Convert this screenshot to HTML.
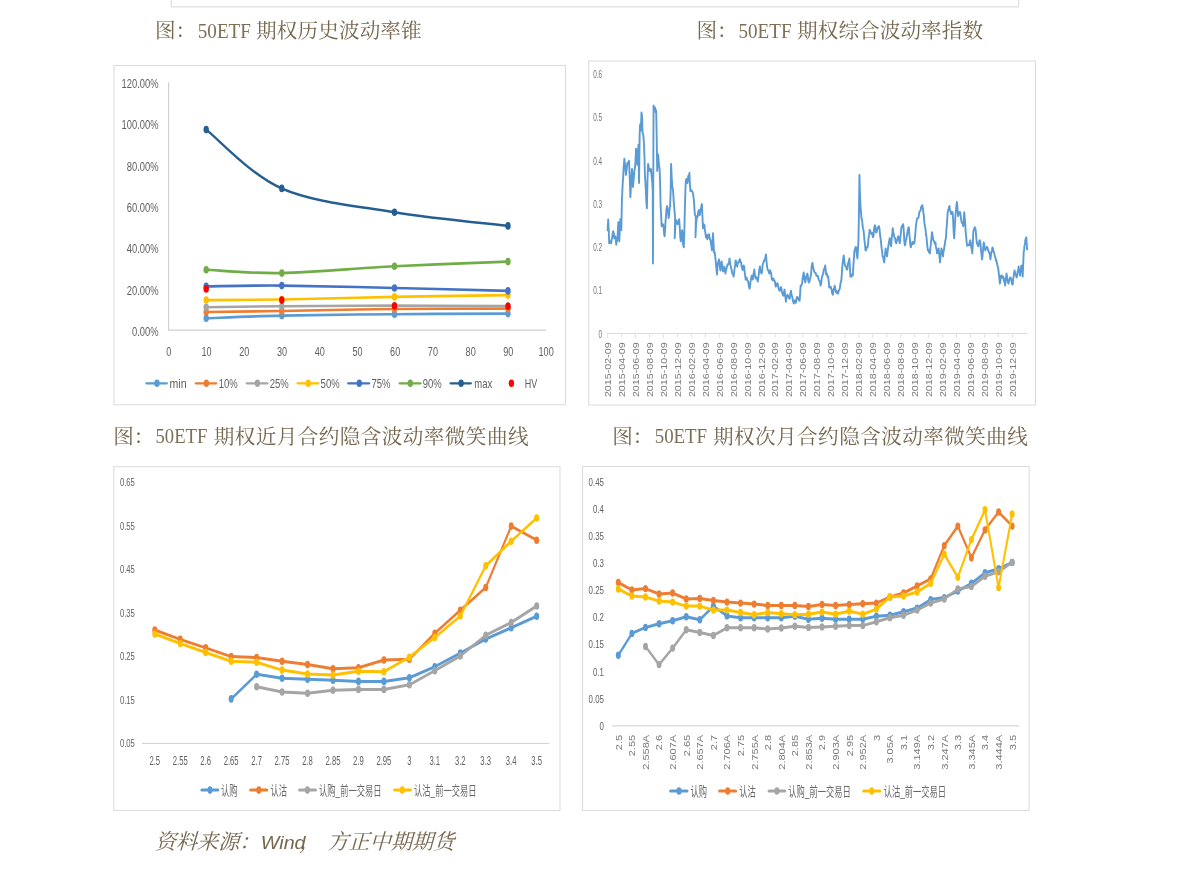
<!DOCTYPE html>
<html lang="zh-CN">
<head>
<meta charset="utf-8">
<title>50ETF 期权波动率图表</title>
<style>
html,body{margin:0;padding:0;background:#fff;}
body{width:1191px;height:874px;overflow:hidden;font-family:"Liberation Sans",sans-serif;}
svg{display:block;will-change:transform;}
text{white-space:pre;}
</style>
</head>
<body>
<svg width="1191" height="874" viewBox="0 0 1191 874">
<path d="M171.3 -1V6.9H1018.6V-1" fill="none" stroke="#e0e0e0" stroke-width="1.3"/>
<text x="154.9" y="38.1" font-size="20.6" fill="#75664d" font-family="Liberation Serif, Noto Serif CJK SC, serif">图：</text>
<text x="256.08" y="38.1" font-size="20.6" textLength="165.6" fill="#75664d" font-family="Liberation Serif, Noto Serif CJK SC, serif">期权历史波动率锥</text>
<text transform="translate(197.8,37.6) scale(0.88,1)" font-size="21.7" fill="#7d6e56" font-family="Liberation Serif, serif"><tspan x="0">50ETF</tspan></text>
<text x="696.5" y="38.1" font-size="20.6" fill="#75664d" font-family="Liberation Serif, Noto Serif CJK SC, serif">图：</text>
<text x="797.08" y="38.1" font-size="20.6" textLength="185.9" fill="#75664d" font-family="Liberation Serif, Noto Serif CJK SC, serif">期权综合波动率指数</text>
<text transform="translate(738.5,37.6) scale(0.88,1)" font-size="21.7" fill="#7d6e56" font-family="Liberation Serif, serif"><tspan x="0">50ETF</tspan></text>
<text x="113.2" y="443.8" font-size="20.6" fill="#75664d" font-family="Liberation Serif, Noto Serif CJK SC, serif">图：</text>
<text x="213.78" y="443.8" font-size="20.6" textLength="314.7" fill="#75664d" font-family="Liberation Serif, Noto Serif CJK SC, serif">期权近月合约隐含波动率微笑曲线</text>
<text transform="translate(155.5,443.3) scale(0.86,1)" font-size="21.7" fill="#7d6e56" font-family="Liberation Serif, serif"><tspan x="0">50ETF</tspan></text>
<text x="612.2" y="443.8" font-size="20.6" fill="#75664d" font-family="Liberation Serif, Noto Serif CJK SC, serif">图：</text>
<text x="713.08" y="443.8" font-size="20.6" textLength="314.7" fill="#75664d" font-family="Liberation Serif, Noto Serif CJK SC, serif">期权次月合约隐含波动率微笑曲线</text>
<text transform="translate(654.7,443.3) scale(0.87,1)" font-size="21.7" fill="#7d6e56" font-family="Liberation Serif, serif"><tspan x="0">50ETF</tspan></text>
<text transform="translate(154.77,848.9) skewX(-16)" font-size="21.2" textLength="105.4" fill="#75664d" font-family="Liberation Serif, Noto Serif CJK SC, serif">资料来源：</text>
<text transform="translate(260.8,848.7) scale(1.05,1)" font-size="18.8" fill="#75664d" font-family="Liberation Sans, serif" font-style="italic"><tspan x="0">Wind</tspan></text>
<text transform="translate(299.2,848.9) skewX(-16)" font-size="21.2" fill="#75664d" font-family="Liberation Serif, Noto Serif CJK SC, serif">，</text>
<text transform="translate(327.22,848.9) skewX(-16)" font-size="21.2" textLength="127" fill="#75664d" font-family="Liberation Serif, Noto Serif CJK SC, serif">方正中期期货</text>
<rect x="113.94" y="65.48" width="451.55" height="339.28" fill="#fff" stroke="#dadada" stroke-width="1"/>
<line x1="168.63" y1="82.3" x2="168.63" y2="330.6" stroke="#d0d0d0" stroke-width="1.15"/>
<line x1="168.1" y1="330.08" x2="546.3" y2="330.08" stroke="#d0d0d0" stroke-width="1.15"/>
<text transform="translate(158.6,87.55) scale(0.69,1)" font-size="13.6" text-anchor="end" fill="#5f5f5f" font-family="Liberation Sans, sans-serif">120.00%</text>
<text transform="translate(158.6,129.03) scale(0.69,1)" font-size="13.6" text-anchor="end" fill="#5f5f5f" font-family="Liberation Sans, sans-serif">100.00%</text>
<text transform="translate(158.6,170.5) scale(0.69,1)" font-size="13.6" text-anchor="end" fill="#5f5f5f" font-family="Liberation Sans, sans-serif">80.00%</text>
<text transform="translate(158.6,211.97) scale(0.69,1)" font-size="13.6" text-anchor="end" fill="#5f5f5f" font-family="Liberation Sans, sans-serif">60.00%</text>
<text transform="translate(158.6,253.45) scale(0.69,1)" font-size="13.6" text-anchor="end" fill="#5f5f5f" font-family="Liberation Sans, sans-serif">40.00%</text>
<text transform="translate(158.6,294.93) scale(0.69,1)" font-size="13.6" text-anchor="end" fill="#5f5f5f" font-family="Liberation Sans, sans-serif">20.00%</text>
<text transform="translate(158.6,336.4) scale(0.69,1)" font-size="13.6" text-anchor="end" fill="#5f5f5f" font-family="Liberation Sans, sans-serif">0.00%</text>
<text transform="translate(168.8,356.2) scale(0.69,1)" font-size="13.2" text-anchor="middle" fill="#5f5f5f" font-family="Liberation Sans, sans-serif">0</text>
<text transform="translate(206.53,356.2) scale(0.69,1)" font-size="13.2" text-anchor="middle" fill="#5f5f5f" font-family="Liberation Sans, sans-serif">10</text>
<text transform="translate(244.26,356.2) scale(0.69,1)" font-size="13.2" text-anchor="middle" fill="#5f5f5f" font-family="Liberation Sans, sans-serif">20</text>
<text transform="translate(281.99,356.2) scale(0.69,1)" font-size="13.2" text-anchor="middle" fill="#5f5f5f" font-family="Liberation Sans, sans-serif">30</text>
<text transform="translate(319.72,356.2) scale(0.69,1)" font-size="13.2" text-anchor="middle" fill="#5f5f5f" font-family="Liberation Sans, sans-serif">40</text>
<text transform="translate(357.45,356.2) scale(0.69,1)" font-size="13.2" text-anchor="middle" fill="#5f5f5f" font-family="Liberation Sans, sans-serif">50</text>
<text transform="translate(395.18,356.2) scale(0.69,1)" font-size="13.2" text-anchor="middle" fill="#5f5f5f" font-family="Liberation Sans, sans-serif">60</text>
<text transform="translate(432.91,356.2) scale(0.69,1)" font-size="13.2" text-anchor="middle" fill="#5f5f5f" font-family="Liberation Sans, sans-serif">70</text>
<text transform="translate(470.64,356.2) scale(0.69,1)" font-size="13.2" text-anchor="middle" fill="#5f5f5f" font-family="Liberation Sans, sans-serif">80</text>
<text transform="translate(508.37,356.2) scale(0.69,1)" font-size="13.2" text-anchor="middle" fill="#5f5f5f" font-family="Liberation Sans, sans-serif">90</text>
<text transform="translate(546.1,356.2) scale(0.69,1)" font-size="13.2" text-anchor="middle" fill="#5f5f5f" font-family="Liberation Sans, sans-serif">100</text>
<g transform="scale(0.7105,1)"><path d="M290.21 318.3C307.94 317.85 352.44 316.28 396.61 315.6C440.78 314.92 502.16 314.53 555.22 314.2C608.28 313.87 688.34 313.7 714.96 313.6" fill="none" stroke="#5B9BD5" stroke-width="2.6" stroke-linejoin="round" stroke-linecap="round"/><g fill="#5B9BD5"><circle cx="290.21" cy="318.3" r="3.8"/><circle cx="396.61" cy="315.6" r="3.8"/><circle cx="555.22" cy="314.2" r="3.8"/><circle cx="714.96" cy="313.6" r="3.8"/></g></g>
<g transform="scale(0.7105,1)"><path d="M290.21 312C307.94 311.83 352.44 311.5 396.61 311C440.78 310.5 502.16 309.4 555.22 309C608.28 308.6 688.34 308.67 714.96 308.6" fill="none" stroke="#ED7D31" stroke-width="2.6" stroke-linejoin="round" stroke-linecap="round"/><g fill="#ED7D31"><circle cx="290.21" cy="312" r="3.8"/><circle cx="396.61" cy="311" r="3.8"/><circle cx="555.22" cy="309" r="3.8"/><circle cx="714.96" cy="308.6" r="3.8"/></g></g>
<g transform="scale(0.7105,1)"><path d="M290.21 307.2C307.94 307.03 352.44 306.47 396.61 306.2C440.78 305.93 502.16 305.63 555.22 305.6C608.28 305.57 688.34 305.93 714.96 306" fill="none" stroke="#A5A5A5" stroke-width="2.6" stroke-linejoin="round" stroke-linecap="round"/><g fill="#A5A5A5"><circle cx="290.21" cy="307.2" r="3.8"/><circle cx="396.61" cy="306.2" r="3.8"/><circle cx="555.22" cy="305.6" r="3.8"/><circle cx="714.96" cy="306" r="3.8"/></g></g>
<g transform="scale(0.7105,1)"><path d="M290.21 300.1C307.94 300 352.44 300.03 396.61 299.5C440.78 298.97 502.16 297.63 555.22 296.9C608.28 296.17 688.34 295.4 714.96 295.1" fill="none" stroke="#FFC000" stroke-width="2.6" stroke-linejoin="round" stroke-linecap="round"/><g fill="#FFC000"><circle cx="290.21" cy="300.1" r="3.8"/><circle cx="396.61" cy="299.5" r="3.8"/><circle cx="555.22" cy="296.9" r="3.8"/><circle cx="714.96" cy="295.1" r="3.8"/></g></g>
<g transform="scale(0.7105,1)"><path d="M290.21 286.4C307.94 286.27 352.44 285.33 396.61 285.6C440.78 285.87 502.16 287.12 555.22 288C608.28 288.88 688.34 290.42 714.96 290.9" fill="none" stroke="#4472C4" stroke-width="2.6" stroke-linejoin="round" stroke-linecap="round"/><g fill="#4472C4"><circle cx="290.21" cy="286.4" r="3.8"/><circle cx="396.61" cy="285.6" r="3.8"/><circle cx="555.22" cy="288" r="3.8"/><circle cx="714.96" cy="290.9" r="3.8"/></g></g>
<g transform="scale(0.7105,1)"><path d="M290.21 269.7C307.94 270.27 352.44 273.67 396.61 273.1C440.78 272.53 502.16 268.22 555.22 266.3C608.28 264.38 688.34 262.38 714.96 261.6" fill="none" stroke="#70AD47" stroke-width="2.6" stroke-linejoin="round" stroke-linecap="round"/><g fill="#70AD47"><circle cx="290.21" cy="269.7" r="3.8"/><circle cx="396.61" cy="273.1" r="3.8"/><circle cx="555.22" cy="266.3" r="3.8"/><circle cx="714.96" cy="261.6" r="3.8"/></g></g>
<g transform="scale(0.7105,1)"><path d="M290.21 129.6C307.94 139.4 352.44 174.63 396.61 188.4C440.78 202.17 502.16 205.95 555.22 212.2C608.28 218.45 688.34 223.62 714.96 225.9" fill="none" stroke="#255E91" stroke-width="2.6" stroke-linejoin="round" stroke-linecap="round"/><g fill="#255E91"><circle cx="290.21" cy="129.6" r="3.8"/><circle cx="396.61" cy="188.4" r="3.8"/><circle cx="555.22" cy="212.2" r="3.8"/><circle cx="714.96" cy="225.9" r="3.8"/></g></g>
<g transform="scale(0.7105,1)"><g fill="#FF0000"><circle cx="290.21" cy="288.9" r="3.8"/><circle cx="396.61" cy="300.1" r="3.8"/><circle cx="555.22" cy="306" r="3.8"/><circle cx="714.96" cy="306.2" r="3.8"/></g></g>
<line x1="146.45" y1="383.3" x2="166.85" y2="383.3" stroke="#5B9BD5" stroke-width="2.3" stroke-linecap="round"/>
<ellipse cx="157" cy="383.3" rx="2.7" ry="3.8" fill="#5B9BD5"/>
<text transform="translate(169.5,387.9) scale(0.8,1)" font-size="13.2" text-anchor="start" fill="#5f5f5f" font-family="Liberation Sans, sans-serif">min</text>
<line x1="195.75" y1="383.3" x2="216.25" y2="383.3" stroke="#ED7D31" stroke-width="2.3" stroke-linecap="round"/>
<ellipse cx="206.4" cy="383.3" rx="2.7" ry="3.8" fill="#ED7D31"/>
<text transform="translate(218.8,387.9) scale(0.72,1)" font-size="13.2" text-anchor="start" fill="#5f5f5f" font-family="Liberation Sans, sans-serif">10%</text>
<line x1="246.75" y1="383.3" x2="267.45" y2="383.3" stroke="#A5A5A5" stroke-width="2.3" stroke-linecap="round"/>
<ellipse cx="257.4" cy="383.3" rx="2.7" ry="3.8" fill="#A5A5A5"/>
<text transform="translate(269.8,387.9) scale(0.72,1)" font-size="13.2" text-anchor="start" fill="#5f5f5f" font-family="Liberation Sans, sans-serif">25%</text>
<line x1="297.55" y1="383.3" x2="318.45" y2="383.3" stroke="#FFC000" stroke-width="2.3" stroke-linecap="round"/>
<ellipse cx="308.3" cy="383.3" rx="2.7" ry="3.8" fill="#FFC000"/>
<text transform="translate(320.6,387.9) scale(0.72,1)" font-size="13.2" text-anchor="start" fill="#5f5f5f" font-family="Liberation Sans, sans-serif">50%</text>
<line x1="348.25" y1="383.3" x2="369.15" y2="383.3" stroke="#4472C4" stroke-width="2.3" stroke-linecap="round"/>
<ellipse cx="359.3" cy="383.3" rx="2.7" ry="3.8" fill="#4472C4"/>
<text transform="translate(371.5,387.9) scale(0.72,1)" font-size="13.2" text-anchor="start" fill="#5f5f5f" font-family="Liberation Sans, sans-serif">75%</text>
<line x1="399.65" y1="383.3" x2="420.55" y2="383.3" stroke="#70AD47" stroke-width="2.3" stroke-linecap="round"/>
<ellipse cx="410.3" cy="383.3" rx="2.7" ry="3.8" fill="#70AD47"/>
<text transform="translate(422.7,387.9) scale(0.72,1)" font-size="13.2" text-anchor="start" fill="#5f5f5f" font-family="Liberation Sans, sans-serif">90%</text>
<line x1="450.65" y1="383.3" x2="470.85" y2="383.3" stroke="#255E91" stroke-width="2.3" stroke-linecap="round"/>
<ellipse cx="461.1" cy="383.3" rx="2.7" ry="3.8" fill="#255E91"/>
<text transform="translate(474.3,387.9) scale(0.72,1)" font-size="13.2" text-anchor="start" fill="#5f5f5f" font-family="Liberation Sans, sans-serif">max</text>
<ellipse cx="511.4" cy="383.3" rx="2.7" ry="3.8" fill="#FF0000"/>
<text transform="translate(524.8,387.9) scale(0.68,1)" font-size="13.2" text-anchor="start" fill="#5f5f5f" font-family="Liberation Sans, sans-serif">HV</text>
<rect x="588.77" y="60.98" width="446.65" height="343.95" fill="#fff" stroke="#dadada" stroke-width="1"/>
<line x1="607.4" y1="333.46" x2="1027.2" y2="333.46" stroke="#dcdcdc" stroke-width="1"/>
<line x1="607.65" y1="333.4" x2="607.65" y2="337.8" stroke="#e2e2e2" stroke-width="1"/>
<line x1="621.61" y1="333.4" x2="621.61" y2="337.8" stroke="#e2e2e2" stroke-width="1"/>
<line x1="635.56" y1="333.4" x2="635.56" y2="337.8" stroke="#e2e2e2" stroke-width="1"/>
<line x1="649.51" y1="333.4" x2="649.51" y2="337.8" stroke="#e2e2e2" stroke-width="1"/>
<line x1="663.47" y1="333.4" x2="663.47" y2="337.8" stroke="#e2e2e2" stroke-width="1"/>
<line x1="677.42" y1="333.4" x2="677.42" y2="337.8" stroke="#e2e2e2" stroke-width="1"/>
<line x1="691.38" y1="333.4" x2="691.38" y2="337.8" stroke="#e2e2e2" stroke-width="1"/>
<line x1="705.34" y1="333.4" x2="705.34" y2="337.8" stroke="#e2e2e2" stroke-width="1"/>
<line x1="719.29" y1="333.4" x2="719.29" y2="337.8" stroke="#e2e2e2" stroke-width="1"/>
<line x1="733.25" y1="333.4" x2="733.25" y2="337.8" stroke="#e2e2e2" stroke-width="1"/>
<line x1="747.2" y1="333.4" x2="747.2" y2="337.8" stroke="#e2e2e2" stroke-width="1"/>
<line x1="761.15" y1="333.4" x2="761.15" y2="337.8" stroke="#e2e2e2" stroke-width="1"/>
<line x1="775.11" y1="333.4" x2="775.11" y2="337.8" stroke="#e2e2e2" stroke-width="1"/>
<line x1="789.06" y1="333.4" x2="789.06" y2="337.8" stroke="#e2e2e2" stroke-width="1"/>
<line x1="803.02" y1="333.4" x2="803.02" y2="337.8" stroke="#e2e2e2" stroke-width="1"/>
<line x1="816.97" y1="333.4" x2="816.97" y2="337.8" stroke="#e2e2e2" stroke-width="1"/>
<line x1="830.93" y1="333.4" x2="830.93" y2="337.8" stroke="#e2e2e2" stroke-width="1"/>
<line x1="844.88" y1="333.4" x2="844.88" y2="337.8" stroke="#e2e2e2" stroke-width="1"/>
<line x1="858.84" y1="333.4" x2="858.84" y2="337.8" stroke="#e2e2e2" stroke-width="1"/>
<line x1="872.79" y1="333.4" x2="872.79" y2="337.8" stroke="#e2e2e2" stroke-width="1"/>
<line x1="886.75" y1="333.4" x2="886.75" y2="337.8" stroke="#e2e2e2" stroke-width="1"/>
<line x1="900.7" y1="333.4" x2="900.7" y2="337.8" stroke="#e2e2e2" stroke-width="1"/>
<line x1="914.66" y1="333.4" x2="914.66" y2="337.8" stroke="#e2e2e2" stroke-width="1"/>
<line x1="928.62" y1="333.4" x2="928.62" y2="337.8" stroke="#e2e2e2" stroke-width="1"/>
<line x1="942.57" y1="333.4" x2="942.57" y2="337.8" stroke="#e2e2e2" stroke-width="1"/>
<line x1="956.52" y1="333.4" x2="956.52" y2="337.8" stroke="#e2e2e2" stroke-width="1"/>
<line x1="970.48" y1="333.4" x2="970.48" y2="337.8" stroke="#e2e2e2" stroke-width="1"/>
<line x1="984.43" y1="333.4" x2="984.43" y2="337.8" stroke="#e2e2e2" stroke-width="1"/>
<line x1="998.39" y1="333.4" x2="998.39" y2="337.8" stroke="#e2e2e2" stroke-width="1"/>
<line x1="1012.35" y1="333.4" x2="1012.35" y2="337.8" stroke="#e2e2e2" stroke-width="1"/>
<text transform="translate(602,77.96) scale(0.55,1)" font-size="11.6" text-anchor="end" fill="#727272" font-family="Liberation Sans, sans-serif">0.6</text>
<text transform="translate(602,121.26) scale(0.55,1)" font-size="11.6" text-anchor="end" fill="#727272" font-family="Liberation Sans, sans-serif">0.5</text>
<text transform="translate(602,164.56) scale(0.55,1)" font-size="11.6" text-anchor="end" fill="#727272" font-family="Liberation Sans, sans-serif">0.4</text>
<text transform="translate(602,207.86) scale(0.55,1)" font-size="11.6" text-anchor="end" fill="#727272" font-family="Liberation Sans, sans-serif">0.3</text>
<text transform="translate(602,251.16) scale(0.55,1)" font-size="11.6" text-anchor="end" fill="#727272" font-family="Liberation Sans, sans-serif">0.2</text>
<text transform="translate(602,294.46) scale(0.55,1)" font-size="11.6" text-anchor="end" fill="#727272" font-family="Liberation Sans, sans-serif">0.1</text>
<text transform="translate(602,337.76) scale(0.55,1)" font-size="11.6" text-anchor="end" fill="#727272" font-family="Liberation Sans, sans-serif">0</text>
<text transform="translate(611,342.4) rotate(-90) scale(1.29,1)" font-size="8.3" text-anchor="end" fill="#7a7a7a" font-family="Liberation Sans, sans-serif">2015-02-09</text>
<text transform="translate(624.96,342.4) rotate(-90) scale(1.29,1)" font-size="8.3" text-anchor="end" fill="#7a7a7a" font-family="Liberation Sans, sans-serif">2015-04-09</text>
<text transform="translate(638.91,342.4) rotate(-90) scale(1.29,1)" font-size="8.3" text-anchor="end" fill="#7a7a7a" font-family="Liberation Sans, sans-serif">2015-06-09</text>
<text transform="translate(652.87,342.4) rotate(-90) scale(1.29,1)" font-size="8.3" text-anchor="end" fill="#7a7a7a" font-family="Liberation Sans, sans-serif">2015-08-09</text>
<text transform="translate(666.82,342.4) rotate(-90) scale(1.29,1)" font-size="8.3" text-anchor="end" fill="#7a7a7a" font-family="Liberation Sans, sans-serif">2015-10-09</text>
<text transform="translate(680.77,342.4) rotate(-90) scale(1.29,1)" font-size="8.3" text-anchor="end" fill="#7a7a7a" font-family="Liberation Sans, sans-serif">2015-12-09</text>
<text transform="translate(694.73,342.4) rotate(-90) scale(1.29,1)" font-size="8.3" text-anchor="end" fill="#7a7a7a" font-family="Liberation Sans, sans-serif">2016-02-09</text>
<text transform="translate(708.68,342.4) rotate(-90) scale(1.29,1)" font-size="8.3" text-anchor="end" fill="#7a7a7a" font-family="Liberation Sans, sans-serif">2016-04-09</text>
<text transform="translate(722.64,342.4) rotate(-90) scale(1.29,1)" font-size="8.3" text-anchor="end" fill="#7a7a7a" font-family="Liberation Sans, sans-serif">2016-06-09</text>
<text transform="translate(736.6,342.4) rotate(-90) scale(1.29,1)" font-size="8.3" text-anchor="end" fill="#7a7a7a" font-family="Liberation Sans, sans-serif">2016-08-09</text>
<text transform="translate(750.55,342.4) rotate(-90) scale(1.29,1)" font-size="8.3" text-anchor="end" fill="#7a7a7a" font-family="Liberation Sans, sans-serif">2016-10-09</text>
<text transform="translate(764.5,342.4) rotate(-90) scale(1.29,1)" font-size="8.3" text-anchor="end" fill="#7a7a7a" font-family="Liberation Sans, sans-serif">2016-12-09</text>
<text transform="translate(778.46,342.4) rotate(-90) scale(1.29,1)" font-size="8.3" text-anchor="end" fill="#7a7a7a" font-family="Liberation Sans, sans-serif">2017-02-09</text>
<text transform="translate(792.41,342.4) rotate(-90) scale(1.29,1)" font-size="8.3" text-anchor="end" fill="#7a7a7a" font-family="Liberation Sans, sans-serif">2017-04-09</text>
<text transform="translate(806.37,342.4) rotate(-90) scale(1.29,1)" font-size="8.3" text-anchor="end" fill="#7a7a7a" font-family="Liberation Sans, sans-serif">2017-06-09</text>
<text transform="translate(820.33,342.4) rotate(-90) scale(1.29,1)" font-size="8.3" text-anchor="end" fill="#7a7a7a" font-family="Liberation Sans, sans-serif">2017-08-09</text>
<text transform="translate(834.28,342.4) rotate(-90) scale(1.29,1)" font-size="8.3" text-anchor="end" fill="#7a7a7a" font-family="Liberation Sans, sans-serif">2017-10-09</text>
<text transform="translate(848.24,342.4) rotate(-90) scale(1.29,1)" font-size="8.3" text-anchor="end" fill="#7a7a7a" font-family="Liberation Sans, sans-serif">2017-12-09</text>
<text transform="translate(862.19,342.4) rotate(-90) scale(1.29,1)" font-size="8.3" text-anchor="end" fill="#7a7a7a" font-family="Liberation Sans, sans-serif">2018-02-09</text>
<text transform="translate(876.14,342.4) rotate(-90) scale(1.29,1)" font-size="8.3" text-anchor="end" fill="#7a7a7a" font-family="Liberation Sans, sans-serif">2018-04-09</text>
<text transform="translate(890.1,342.4) rotate(-90) scale(1.29,1)" font-size="8.3" text-anchor="end" fill="#7a7a7a" font-family="Liberation Sans, sans-serif">2018-06-09</text>
<text transform="translate(904.06,342.4) rotate(-90) scale(1.29,1)" font-size="8.3" text-anchor="end" fill="#7a7a7a" font-family="Liberation Sans, sans-serif">2018-08-09</text>
<text transform="translate(918.01,342.4) rotate(-90) scale(1.29,1)" font-size="8.3" text-anchor="end" fill="#7a7a7a" font-family="Liberation Sans, sans-serif">2018-10-09</text>
<text transform="translate(931.96,342.4) rotate(-90) scale(1.29,1)" font-size="8.3" text-anchor="end" fill="#7a7a7a" font-family="Liberation Sans, sans-serif">2018-12-09</text>
<text transform="translate(945.92,342.4) rotate(-90) scale(1.29,1)" font-size="8.3" text-anchor="end" fill="#7a7a7a" font-family="Liberation Sans, sans-serif">2019-02-09</text>
<text transform="translate(959.88,342.4) rotate(-90) scale(1.29,1)" font-size="8.3" text-anchor="end" fill="#7a7a7a" font-family="Liberation Sans, sans-serif">2019-04-09</text>
<text transform="translate(973.83,342.4) rotate(-90) scale(1.29,1)" font-size="8.3" text-anchor="end" fill="#7a7a7a" font-family="Liberation Sans, sans-serif">2019-06-09</text>
<text transform="translate(987.79,342.4) rotate(-90) scale(1.29,1)" font-size="8.3" text-anchor="end" fill="#7a7a7a" font-family="Liberation Sans, sans-serif">2019-08-09</text>
<text transform="translate(1001.74,342.4) rotate(-90) scale(1.29,1)" font-size="8.3" text-anchor="end" fill="#7a7a7a" font-family="Liberation Sans, sans-serif">2019-10-09</text>
<text transform="translate(1015.69,342.4) rotate(-90) scale(1.29,1)" font-size="8.3" text-anchor="end" fill="#7a7a7a" font-family="Liberation Sans, sans-serif">2019-12-09</text>
<path d="M607.61 230.23L608.21 219.55L608.82 232.24L609.22 243.32L609.69 241.49L610.23 241.31L610.69 241.77L611.23 243.32L611.6 239.74L612.24 237.28L612.67 233.32L613.25 231.23L613.85 233.71L614.26 238.29L614.8 236.66L615.26 236.27L615.79 239.42L616.27 244.74L616.64 241.62L617.28 240.3L617.76 232.59L618.29 222.17L618.81 232.78L619.29 241.31L619.82 229.04L620.3 219.14L620.69 225.82L621.31 230.23L621.91 200.13L622.35 190.35L622.72 183L623.21 176.94L623.53 168.89L623.89 164.82L624.33 158.82L625.2 166.13L625.94 174.94L626.66 169.64L627.36 162.85L628.1 163.21L628.97 160.83L629.37 168.42L629.77 178.97L630.38 197.1L631.08 183.66L631.99 168.89L632.63 176.97L633 187.03L633.65 179.54L634.41 170.91L634.94 167.73L635.42 162.85L636.02 148.74L636.86 155.84L637.43 164.86L637.8 153.81L638.44 144.71L639.04 183L639.65 134.63L640.05 124.56L640.39 128.78L640.86 130.6L641.46 112.47L642.07 116.5L642.47 130.6L642.73 133.51L643.27 134.63L643.71 139.72L644.08 146.73L644.56 159.84L644.89 174.94L645.36 182.37L645.89 191.06L646.27 201.04L646.9 208.19L647.51 178.97L648.11 163.85L648.93 168.33L649.52 170.91L650.29 171.22L650.93 168.89L651.67 176.42L652.14 180.98L652.75 191.06L652.95 263.48L653.55 105.42L653.85 107.28L654.36 110.45L654.96 107.43L655.36 108.79L655.77 112.47L656.17 110.45L656.78 140.68L657.18 170.91L657.62 163.94L658.19 154.79L658.62 160.47L658.99 164.86L659.6 168.89L660.2 187.03L660.6 205.16L661.01 212.09L661.61 226.2L662.37 224.37L663.02 224.18L663.41 226.19L663.83 230.23L664.2 234.62L664.63 236.27L665.08 230.11L665.44 222.17L665.99 216.57L666.25 212.09L666.6 208.13L667.05 206.05L667.58 208.52L668.06 212.09L668.66 218.14L669.1 215.14L669.47 210.08L670.08 206.05L670.68 191.06L671.08 163.85L671.69 176.95L672.29 187.03L672.73 188.47L673.1 191.06L673.7 201.13L674.24 206.82L674.51 211.21L675.11 217.25L674.71 238.29L675 232.34L675.52 224.18L675.91 223.52L676.32 220.15L676.91 221.35L677.73 224.18L678.43 222.51L679.14 219.14L679.46 223.49L679.95 230.23L680.25 237.22L680.76 241.31L681.24 236.74L681.56 234.26L682.17 230.23L682.63 235.98L682.97 243.32L683.5 246.1L683.78 247.36L684.38 230.23L684.79 212.09L685.39 191.06L685.79 180.98L686.31 179.12L686.8 178.97L687.41 183L687.85 180.75L688.21 175.94L688.82 178.97L689.42 172.92L689.82 183L690.43 191.06L691.23 189.94L691.84 191.06L692.45 191.75L693.25 195.09L694 201.15L694.46 209.19L694.79 213.51L695.26 215.24L695.87 217.25L695.47 237.28L696.07 224.18L696.46 221.34L696.88 216.12L697.52 217.05L697.88 215.11L698.27 211.73L698.89 210.08L699.21 213.56L699.7 215.11L700.3 212.09L700.7 208.95L701.11 208.06L701.61 204.89L701.91 204.03L702.52 218.14L702.92 228.21L703.41 226.82L703.73 224.18L704.25 225.94L704.53 225.19L704.81 229.65L705.34 232.24L705.94 237.28L706.34 237.72L706.75 235.26L707.36 239.29L707.83 236.54L708.16 236.27L708.42 234.59L708.97 234.26L709.46 237.36L709.77 238.29L710.22 239.94L710.58 240.3L710.84 242.47L711.39 246.35L711.99 250.38L712.59 240.3L713 233.25L713.6 244.33L714.01 252.39L714.42 251.6L714.81 253.4L715.42 258.44L715.96 263.9L716.22 266.5L716.48 269.83L717.03 274.56L717.63 264.48L718.42 261.25L719.04 259.45L719.55 263.8L719.85 266.5L720.45 270.53L721.06 264.48L721.66 261.46L722.18 265.55L722.47 268.51L723.07 271.54L723.57 270.68L723.88 267.51L724.29 266.63L724.69 268.51L725.2 270.01L725.49 273.55L725.98 270.26L726.3 269.52L726.69 267.36L727.1 266.5L727.66 264.27L728.31 264.48L729 262.48L729.52 258.44L729.85 260.85L730.33 264.48L730.73 265.72L731.13 268.51L731.72 269.97L732.34 273.55L733 273.95L733.55 276.57L734.06 273.5L734.56 268.51L735.19 265.23L735.57 260.45L736.07 261.08L736.37 264.48L736.74 264.85L737.18 266.5L737.66 263.67L738.19 262.47L738.78 262.17L739.19 260.45L739.83 259.06L740.2 260.45L740.6 262.6L741.21 262.47L741.53 266.37L742.02 267.51L742.53 269.97L742.82 269.52L743.12 266.84L743.63 265.49L744.23 266.5L744.59 271.46L745.04 274.56L745.64 279.6L746.02 279.29L746.65 277.58L747.17 279.96L747.66 280.6L748.13 281.68L748.66 284.63L749.17 287.67L749.67 288.66L750.22 284.57L750.48 281.61L750.81 280.2L751.28 277.58L751.62 275.67L752.09 276.57L752.7 279.6L753.2 277.2L753.5 273.55L753.88 272.71L754.31 269.52L754.77 273.58L755.11 275.57L755.72 278.59L756.31 277.5L756.73 277.58L757.16 278.91L757.73 281.61L758.33 277.57L758.74 274.56L759.22 269.95L759.95 266.5L760.21 270.38L760.76 271.54L761.36 273.55L761.99 272.02L762.37 267.51L762.73 264.22L763.38 262.47L763.92 260.76L764.18 261.46L764.49 259.69L764.99 259.45L765.59 256.42L765.99 254.41L766.6 262.47L767.01 266.3L767.41 268.51L767.91 270.23L768.41 270.53L769.01 272.72L769.42 273.55L769.68 270.55L770.23 270.53L770.83 272.54L771.24 273.83L771.64 277.58L771.92 279.34L772.44 279.6L772.99 280.41L773.45 278.59L774.1 280.64L774.46 280.6L775.01 281.81L775.26 284.63L775.87 286.65L776.34 284.3L776.88 283.63L777.48 283.28L777.88 284.63L778.27 287.16L778.69 288.66L779.2 290.23L779.5 290.68L780.03 290.34L780.5 287.66L781 286.97L781.51 288.66L781.87 291.84L782.52 293.7L783.16 295.57L783.53 295.72L784.13 291.69L784.53 289.67L784.8 292.15L785.34 296.73L785.94 301.76L786.3 297.86L786.75 296.73L787.03 296.22L787.56 294.71L787.98 295.44L788.56 297.73L789 296.96L789.57 298.74L790 296.81L790.38 293.7L790.98 290.68L791.33 294.09L791.79 295.72L792.24 296.5L792.59 298.74L793.08 301.47L793.4 301.76L793.7 303.49L794.21 302.77L794.47 300.54L795.01 300.76L795.62 302.77L796.09 302.09L796.42 298.74L796.95 296.92L797.23 297.73L797.93 297.49L798.44 299.75L798.92 299.17L799.65 300.76L800.25 291.69L800.65 285.64L801.2 285.68L801.46 284.63L801.88 284.5L802.27 282.62L802.67 277.97L803.07 275.57L803.68 272.54L804.16 275.57L804.48 279.6L804.93 280.11L805.29 282.62L805.72 280.16L806.3 276.57L806.72 275.64L807.3 273.55L807.78 275.32L808.11 279.6L808.72 282.62L809.07 281.61L809.57 281.58L809.87 278.59L810.48 277.58L811.06 273.62L811.49 268.51L811.86 264.58L812.49 262.87L812.94 266.34L813.3 268.51L813.56 268.83L814.11 271.54L814.75 272.6L815.11 272.54L815.67 272.95L816.12 274.56L816.61 275.85L817.13 275.57L817.78 275.61L818.14 277.58L818.88 280.14L819.35 280.6L819.89 281.69L820.55 285.64L821.21 283.2L821.56 279.6L821.94 276.7L822.57 275.57L823.31 273.13L823.78 269.52L824.6 268.14L825.19 265.49L825.79 270.53L826.2 274.56L826.7 273.36L827.2 274.56L827.57 276.94L828.21 276.57L828.82 282.62L829.22 287.66L829.78 287.66L830.23 286.65L830.71 286.75L831.23 288.66L831.74 289.8L832.04 292.7L832.55 294.2L832.85 294.71L833.41 291.07L833.85 288.66L834.18 288.56L834.66 285.64L835.21 288.22L835.47 289.67L836 292.27L836.27 292.7L836.61 290.94L837.08 291.69L837.52 293.25L837.88 293.7L838.27 292.84L838.69 290.68L839.29 289.67L839.88 287.97L840.3 284.63L840.9 281.69L841.31 280.6L841.91 272.54L842.32 266.5L842.79 261.84L843.12 259.45L843.73 255.42L844.33 260.45L844.74 264.48L845.33 266.04L845.94 266.5L846.65 269.26L847.36 269.52L847.76 264.58L848.36 262.47L848.81 261.37L849.37 258.44L849.97 268.51L850.38 276.57L850.95 276.81L851.59 274.56L852.21 275.8L852.8 275.57L853.24 268.12L853.6 262.47L854.02 257L854.41 250.38L854.96 250.32L855.21 248.36L855.63 246.91L856.02 247.36L856.38 250.14L856.83 254.41L857.43 258.44L858.04 248.36L858.44 240.3L858.84 220.15L859.45 174.94L859.85 191.06L860.45 205.16L860.92 211.06L861.46 218.14L862.08 219.85L862.47 224.18L862.94 228.45L863.48 230.23L863.94 234.02L864.48 240.3L864.99 244.5L865.49 250.38L865.88 250.44L866.5 248.36L866.88 246.86L867.51 247.36L867.98 244.22L868.51 238.29L869.12 235.2L869.52 230.23L869.91 229.86L870.53 232.24L871.17 233.67L871.54 233.25L871.91 232.76L872.34 234.26L872.95 237.28L873.59 235.18L873.95 230.23L874.38 226.96L874.96 225.19L875.5 227.06L875.77 230.23L876.05 232.46L876.57 232.24L877.26 228.95L877.78 228.21L878.43 226.47L878.99 226.2L879.43 228.42L879.8 232.24L880.26 236.29L880.6 238.29L881.05 242.71L881.61 248.36L882.08 250.95L882.62 256.42L882.88 256.71L883.43 258.44L883.76 261.25L884.23 262.47L884.63 257.62L885.04 254.41L885.64 248.36L885.9 250.15L886.45 253.4L887.05 256.42L887.52 252.3L888.26 246.35L888.84 243.01L889.67 238.29L890.2 241.53L890.48 243.32L891.08 246.35L891.54 240.58L891.89 236.27L892.35 233.46L892.7 228.21L893.17 231.43L893.5 233.25L893.9 234.26L894.31 237.28L894.73 237.59L895.31 239.29L895.7 242.03L896.32 243.32L896.95 240.19L897.33 239.29L897.97 236.8L898.34 236.27L898.61 238.93L899.14 240.3L899.75 243.32L900.23 238.27L900.76 234.26L901.23 229.02L901.76 226.2L902.24 227.09L902.57 225.19L903.17 224.18L903.53 227.72L903.98 234.26L904.24 240.48L904.79 245.34L905.39 243.99L905.79 240.3L906.2 239.77L906.8 236.27L907.18 233.75L907.81 230.23L908.33 227.8L908.82 227.2L909.28 234L909.82 238.29L910.2 244.14L910.83 247.36L911.3 244.64L911.84 244.33L912.29 241.91L912.85 242.32L913.11 244.06L913.65 243.32L913.92 243.73L914.46 242.32L914.95 237.75L915.26 234.26L915.87 226.2L916.47 222.17L916.88 219.14L917.45 218.08L917.88 218.14L918.35 218.02L918.89 215.11L919.32 212.26L919.9 211.08L920.53 210.79L920.91 208.06L921.17 206.76L921.71 207.05L922.32 205.04L922.79 208.29L923.12 210.08L923.61 214.06L923.93 216.12L924.32 222.57L924.94 226.2L925.53 229.23L925.94 234.26L926.48 237.05L926.95 242.32L927.44 247.18L927.96 250.38L928.47 250.1L928.97 252.39L929.4 252.01L929.97 253.4L930.47 247.29L930.98 242.32L931.63 236.23L931.99 232.24L932.32 233.38L932.8 237.28L933.4 240.3L933.88 240.73L934.41 242.32L934.81 243.81L935.42 242.32L935.85 245.97L936.22 248.36L936.71 249.71L937.03 253.4L937.45 252.68L937.83 250.38L938.15 250.24L938.64 248.36L938.96 251.65L939.45 256.42L940.05 262.47L940.4 257.66L940.86 254.41L941.46 248.36L941.87 249.99L942.27 253.4L942.72 254.18L943.07 256.42L943.33 251.91L943.88 250.38L944.38 246.48L944.69 245.34L945.2 241.41L945.49 240.3L946.1 236.27L946.41 229.49L946.9 224.18L947.43 216.66L947.71 212.09L948.2 209.71L948.72 209.07L949 206.8L949.52 206.05L949.84 209.66L950.33 211.08L950.59 211.73L951.13 214.11L951.57 211.6L951.94 212.09L952.54 212.09L953.04 217.99L953.35 226.2L953.81 233.56L954.16 238.29L954.76 228.21L955.16 220.15L955.44 215.8L955.97 210.08L956.39 206.58L956.78 202.02L957.27 205.48L957.58 210.08L958.19 216.12L958.73 213.45L959.19 213.1L959.67 212L960.2 212.09L960.81 217.13L961.21 220.15L961.76 222.43L962.22 223.17L962.66 223.77L963.22 226.2L963.83 218.14L964.23 212.09L964.84 219.14L965.24 224.18L965.62 230.79L966.05 235.26L966.49 240.32L966.85 244.33L967.27 245.73L967.86 245.34L968.34 244.83L968.87 245.34L969.29 245.15L969.67 242.32L970.28 240.3L970.67 242.96L971.28 247.36L971.83 249.83L972.29 253.4L972.9 241.31L973.3 232.24L973.83 229.32L974.31 229.22L974.7 227.29L975.31 228.21L975.85 231.46L976.12 236.27L976.6 240.41L976.93 243.32L977.27 243.04L977.73 245.34L978.34 246.35L978.88 243L979.14 242.32L979.58 240.33L979.95 240.3L980.57 244.2L980.96 250.38L981.5 253.79L981.96 259.45L982.5 256.27L982.97 250.38L983.28 247.04L983.78 242.32L984.31 245.55L984.58 247.36L984.87 249.52L985.39 250.38L985.76 248.62L986.4 248.36L986.95 246.8L987.41 247.36L987.94 249.69L988.41 250.38L988.96 252.44L989.42 252.39L990.03 256.42L990.43 259.45L990.91 255.11L991.44 252.39L991.94 251.03L992.44 247.36L992.98 248.69L993.45 251.39L993.94 251.91L994.46 254.41L995.06 257.04L995.47 257.43L995.85 260.25L996.47 260.45L996.94 263.6L997.48 265.49L997.85 266.71L998.49 270.53L998.97 274.69L999.29 277.58L999.9 283.63L1000.38 280.1L1000.71 278.59L1000.97 275.68L1001.51 275.57L1001.82 275.5L1002.32 276.57L1002.66 278.06L1003.12 276.57L1003.68 277.78L1004.13 281.61L1004.5 282.41L1005.14 285.64L1005.44 282.97L1005.94 278.59L1006.55 273.55L1007.17 277.97L1007.56 279.6L1008.06 282.57L1008.56 283.63L1009.1 280.19L1009.57 279.6L1010.02 277.47L1010.58 277.58L1011.05 279.06L1011.59 281.61L1012.14 284.26L1012.59 284.63L1013.19 279.21L1013.6 276.57L1014.15 272.79L1014.61 270.53L1015.13 273.4L1015.62 274.56L1016.05 274.99L1016.62 277.58L1017.2 275.59L1017.63 271.54L1018.28 269.89L1018.64 266.5L1018.99 270.09L1019.45 271.54L1020.05 275.57L1020.36 271.96L1020.86 269.52L1021.2 266.26L1021.66 265.49L1022.27 271.54L1022.67 276.57L1023.27 262.47L1023.68 252.39L1024.12 249.88L1024.48 245.34L1024.96 244.31L1025.29 240.3L1025.89 238.29L1026.3 237.28L1026.7 243.32L1027.1 249.37" fill="none" stroke="#5B9BD5" stroke-width="1.9" stroke-linejoin="round" stroke-linecap="round"/>
<rect x="113.77" y="466.74" width="446.21" height="343.69" fill="#fff" stroke="#dadada" stroke-width="1"/>
<line x1="142.05" y1="743.41" x2="549.4" y2="743.41" stroke="#d0d0d0" stroke-width="1"/>
<text transform="translate(134.8,486.4) scale(0.66,1)" font-size="11.6" text-anchor="end" fill="#5f5f5f" font-family="Liberation Sans, sans-serif">0.65</text>
<text transform="translate(134.8,529.9) scale(0.66,1)" font-size="11.6" text-anchor="end" fill="#5f5f5f" font-family="Liberation Sans, sans-serif">0.55</text>
<text transform="translate(134.8,573.4) scale(0.66,1)" font-size="11.6" text-anchor="end" fill="#5f5f5f" font-family="Liberation Sans, sans-serif">0.45</text>
<text transform="translate(134.8,616.9) scale(0.66,1)" font-size="11.6" text-anchor="end" fill="#5f5f5f" font-family="Liberation Sans, sans-serif">0.35</text>
<text transform="translate(134.8,660.4) scale(0.66,1)" font-size="11.6" text-anchor="end" fill="#5f5f5f" font-family="Liberation Sans, sans-serif">0.25</text>
<text transform="translate(134.8,703.9) scale(0.66,1)" font-size="11.6" text-anchor="end" fill="#5f5f5f" font-family="Liberation Sans, sans-serif">0.15</text>
<text transform="translate(134.8,747.4) scale(0.66,1)" font-size="11.6" text-anchor="end" fill="#5f5f5f" font-family="Liberation Sans, sans-serif">0.05</text>
<text transform="translate(154.8,765.2) scale(0.64,1)" font-size="12" text-anchor="middle" fill="#5f5f5f" font-family="Liberation Sans, sans-serif">2.5</text>
<text transform="translate(180.25,765.2) scale(0.64,1)" font-size="12" text-anchor="middle" fill="#5f5f5f" font-family="Liberation Sans, sans-serif">2.55</text>
<text transform="translate(205.71,765.2) scale(0.64,1)" font-size="12" text-anchor="middle" fill="#5f5f5f" font-family="Liberation Sans, sans-serif">2.6</text>
<text transform="translate(231.17,765.2) scale(0.64,1)" font-size="12" text-anchor="middle" fill="#5f5f5f" font-family="Liberation Sans, sans-serif">2.65</text>
<text transform="translate(256.62,765.2) scale(0.64,1)" font-size="12" text-anchor="middle" fill="#5f5f5f" font-family="Liberation Sans, sans-serif">2.7</text>
<text transform="translate(282.07,765.2) scale(0.64,1)" font-size="12" text-anchor="middle" fill="#5f5f5f" font-family="Liberation Sans, sans-serif">2.75</text>
<text transform="translate(307.53,765.2) scale(0.64,1)" font-size="12" text-anchor="middle" fill="#5f5f5f" font-family="Liberation Sans, sans-serif">2.8</text>
<text transform="translate(332.99,765.2) scale(0.64,1)" font-size="12" text-anchor="middle" fill="#5f5f5f" font-family="Liberation Sans, sans-serif">2.85</text>
<text transform="translate(358.44,765.2) scale(0.64,1)" font-size="12" text-anchor="middle" fill="#5f5f5f" font-family="Liberation Sans, sans-serif">2.9</text>
<text transform="translate(383.89,765.2) scale(0.64,1)" font-size="12" text-anchor="middle" fill="#5f5f5f" font-family="Liberation Sans, sans-serif">2.95</text>
<text transform="translate(409.35,765.2) scale(0.64,1)" font-size="12" text-anchor="middle" fill="#5f5f5f" font-family="Liberation Sans, sans-serif">3</text>
<text transform="translate(434.81,765.2) scale(0.64,1)" font-size="12" text-anchor="middle" fill="#5f5f5f" font-family="Liberation Sans, sans-serif">3.1</text>
<text transform="translate(460.26,765.2) scale(0.64,1)" font-size="12" text-anchor="middle" fill="#5f5f5f" font-family="Liberation Sans, sans-serif">3.2</text>
<text transform="translate(485.71,765.2) scale(0.64,1)" font-size="12" text-anchor="middle" fill="#5f5f5f" font-family="Liberation Sans, sans-serif">3.3</text>
<text transform="translate(511.17,765.2) scale(0.64,1)" font-size="12" text-anchor="middle" fill="#5f5f5f" font-family="Liberation Sans, sans-serif">3.4</text>
<text transform="translate(536.62,765.2) scale(0.64,1)" font-size="12" text-anchor="middle" fill="#5f5f5f" font-family="Liberation Sans, sans-serif">3.5</text>
<g transform="scale(0.6711,1)"><path d="M344.48 698.9L382.41 674.3L420.35 678.3L458.28 679.3L496.21 680.3L534.15 681.4L572.08 681.4L610.01 677.7L647.94 666.7L685.88 653.1L723.81 639L761.74 627.8L799.68 616.2" fill="none" stroke="#5B9BD5" stroke-width="3" stroke-linejoin="round" stroke-linecap="round"/><g fill="#5B9BD5"><circle cx="344.48" cy="698.9" r="3.8"/><circle cx="382.41" cy="674.3" r="3.8"/><circle cx="420.35" cy="678.3" r="3.8"/><circle cx="458.28" cy="679.3" r="3.8"/><circle cx="496.21" cy="680.3" r="3.8"/><circle cx="534.15" cy="681.4" r="3.8"/><circle cx="572.08" cy="681.4" r="3.8"/><circle cx="610.01" cy="677.7" r="3.8"/><circle cx="647.94" cy="666.7" r="3.8"/><circle cx="685.88" cy="653.1" r="3.8"/><circle cx="723.81" cy="639" r="3.8"/><circle cx="761.74" cy="627.8" r="3.8"/><circle cx="799.68" cy="616.2" r="3.8"/></g></g>
<g transform="scale(0.6711,1)"><path d="M230.68 630L268.62 639.4L306.55 647.9L344.48 656.6L382.41 657.6L420.35 661.2L458.28 664.6L496.21 668.7L534.15 667.7L572.08 660L610.01 659.2L647.94 633.2L685.88 610.2L723.81 587.5L761.74 526.1L799.68 540.2" fill="none" stroke="#ED7D31" stroke-width="3" stroke-linejoin="round" stroke-linecap="round"/><g fill="#ED7D31"><circle cx="230.68" cy="630" r="3.8"/><circle cx="268.62" cy="639.4" r="3.8"/><circle cx="306.55" cy="647.9" r="3.8"/><circle cx="344.48" cy="656.6" r="3.8"/><circle cx="382.41" cy="657.6" r="3.8"/><circle cx="420.35" cy="661.2" r="3.8"/><circle cx="458.28" cy="664.6" r="3.8"/><circle cx="496.21" cy="668.7" r="3.8"/><circle cx="534.15" cy="667.7" r="3.8"/><circle cx="572.08" cy="660" r="3.8"/><circle cx="610.01" cy="659.2" r="3.8"/><circle cx="647.94" cy="633.2" r="3.8"/><circle cx="685.88" cy="610.2" r="3.8"/><circle cx="723.81" cy="587.5" r="3.8"/><circle cx="761.74" cy="526.1" r="3.8"/><circle cx="799.68" cy="540.2" r="3.8"/></g></g>
<g transform="scale(0.6711,1)"><path d="M382.41 686.8L420.35 692L458.28 693.2L496.21 690.2L534.15 689.4L572.08 689.4L610.01 684.8L647.94 670.7L685.88 656L723.81 635.2L761.74 622.5L799.68 606" fill="none" stroke="#A5A5A5" stroke-width="3" stroke-linejoin="round" stroke-linecap="round"/><g fill="#A5A5A5"><circle cx="382.41" cy="686.8" r="3.8"/><circle cx="420.35" cy="692" r="3.8"/><circle cx="458.28" cy="693.2" r="3.8"/><circle cx="496.21" cy="690.2" r="3.8"/><circle cx="534.15" cy="689.4" r="3.8"/><circle cx="572.08" cy="689.4" r="3.8"/><circle cx="610.01" cy="684.8" r="3.8"/><circle cx="647.94" cy="670.7" r="3.8"/><circle cx="685.88" cy="656" r="3.8"/><circle cx="723.81" cy="635.2" r="3.8"/><circle cx="761.74" cy="622.5" r="3.8"/><circle cx="799.68" cy="606" r="3.8"/></g></g>
<g transform="scale(0.6711,1)"><path d="M230.68 634L268.62 643.5L306.55 652.5L344.48 661.2L382.41 662.2L420.35 670.1L458.28 674.1L496.21 675.1L534.15 671.3L572.08 671.7L610.01 657.2L647.94 637.5L685.88 616L723.81 565.8L761.74 541.2L799.68 518" fill="none" stroke="#FFC000" stroke-width="3" stroke-linejoin="round" stroke-linecap="round"/><g fill="#FFC000"><circle cx="230.68" cy="634" r="3.8"/><circle cx="268.62" cy="643.5" r="3.8"/><circle cx="306.55" cy="652.5" r="3.8"/><circle cx="344.48" cy="661.2" r="3.8"/><circle cx="382.41" cy="662.2" r="3.8"/><circle cx="420.35" cy="670.1" r="3.8"/><circle cx="458.28" cy="674.1" r="3.8"/><circle cx="496.21" cy="675.1" r="3.8"/><circle cx="534.15" cy="671.3" r="3.8"/><circle cx="572.08" cy="671.7" r="3.8"/><circle cx="610.01" cy="657.2" r="3.8"/><circle cx="647.94" cy="637.5" r="3.8"/><circle cx="685.88" cy="616" r="3.8"/><circle cx="723.81" cy="565.8" r="3.8"/><circle cx="761.74" cy="541.2" r="3.8"/><circle cx="799.68" cy="518" r="3.8"/></g></g>
<line x1="201.9" y1="790.1" x2="217.8" y2="790.1" stroke="#5B9BD5" stroke-width="3" stroke-linecap="round"/>
<ellipse cx="210" cy="790.1" rx="2.55" ry="3.8" fill="#5B9BD5"/>
<text transform="translate(221,794.8) scale(0.636,1)" font-size="13" fill="#686868" font-family="Liberation Sans, Noto Sans CJK SC, sans-serif">认购</text>
<line x1="250.6" y1="790.1" x2="266.8" y2="790.1" stroke="#ED7D31" stroke-width="3" stroke-linecap="round"/>
<ellipse cx="258.8" cy="790.1" rx="2.55" ry="3.8" fill="#ED7D31"/>
<text transform="translate(270.4,794.8) scale(0.636,1)" font-size="13" fill="#686868" font-family="Liberation Sans, Noto Sans CJK SC, sans-serif">认沽</text>
<line x1="299.6" y1="790.1" x2="315.5" y2="790.1" stroke="#A5A5A5" stroke-width="3" stroke-linecap="round"/>
<ellipse cx="307.4" cy="790.1" rx="2.55" ry="3.8" fill="#A5A5A5"/>
<text transform="translate(319.1,794.8) scale(0.636,1)" font-size="13" fill="#686868" font-family="Liberation Sans, Noto Sans CJK SC, sans-serif">认购_前一交易日</text>
<line x1="394.6" y1="790.1" x2="410.5" y2="790.1" stroke="#FFC000" stroke-width="3" stroke-linecap="round"/>
<ellipse cx="402.3" cy="790.1" rx="2.55" ry="3.8" fill="#FFC000"/>
<text transform="translate(414.1,794.8) scale(0.636,1)" font-size="13" fill="#686868" font-family="Liberation Sans, Noto Sans CJK SC, sans-serif">认沽_前一交易日</text>
<rect x="582.59" y="466.5" width="446.55" height="343.93" fill="#fff" stroke="#dadada" stroke-width="1"/>
<line x1="611.92" y1="725.91" x2="1019.3" y2="725.91" stroke="#d0d0d0" stroke-width="1"/>
<text transform="translate(603.9,485.5) scale(0.68,1)" font-size="11.6" text-anchor="end" fill="#5f5f5f" font-family="Liberation Sans, sans-serif">0.45</text>
<text transform="translate(603.9,512.66) scale(0.68,1)" font-size="11.6" text-anchor="end" fill="#5f5f5f" font-family="Liberation Sans, sans-serif">0.4</text>
<text transform="translate(603.9,539.81) scale(0.68,1)" font-size="11.6" text-anchor="end" fill="#5f5f5f" font-family="Liberation Sans, sans-serif">0.35</text>
<text transform="translate(603.9,566.97) scale(0.68,1)" font-size="11.6" text-anchor="end" fill="#5f5f5f" font-family="Liberation Sans, sans-serif">0.3</text>
<text transform="translate(603.9,594.12) scale(0.68,1)" font-size="11.6" text-anchor="end" fill="#5f5f5f" font-family="Liberation Sans, sans-serif">0.25</text>
<text transform="translate(603.9,621.28) scale(0.68,1)" font-size="11.6" text-anchor="end" fill="#5f5f5f" font-family="Liberation Sans, sans-serif">0.2</text>
<text transform="translate(603.9,648.44) scale(0.68,1)" font-size="11.6" text-anchor="end" fill="#5f5f5f" font-family="Liberation Sans, sans-serif">0.15</text>
<text transform="translate(603.9,675.59) scale(0.68,1)" font-size="11.6" text-anchor="end" fill="#5f5f5f" font-family="Liberation Sans, sans-serif">0.1</text>
<text transform="translate(603.9,702.75) scale(0.68,1)" font-size="11.6" text-anchor="end" fill="#5f5f5f" font-family="Liberation Sans, sans-serif">0.05</text>
<text transform="translate(603.9,729.9) scale(0.68,1)" font-size="11.6" text-anchor="end" fill="#5f5f5f" font-family="Liberation Sans, sans-serif">0</text>
<text transform="translate(621.7,734.9) rotate(-90) scale(1.31,1)" font-size="8.4" text-anchor="end" fill="#7a7a7a" font-family="Liberation Sans, sans-serif">2.5</text>
<text transform="translate(635.28,734.9) rotate(-90) scale(1.31,1)" font-size="8.4" text-anchor="end" fill="#7a7a7a" font-family="Liberation Sans, sans-serif">2.55</text>
<text transform="translate(648.86,734.9) rotate(-90) scale(1.31,1)" font-size="8.4" text-anchor="end" fill="#7a7a7a" font-family="Liberation Sans, sans-serif">2.558A</text>
<text transform="translate(662.44,734.9) rotate(-90) scale(1.31,1)" font-size="8.4" text-anchor="end" fill="#7a7a7a" font-family="Liberation Sans, sans-serif">2.6</text>
<text transform="translate(676.02,734.9) rotate(-90) scale(1.31,1)" font-size="8.4" text-anchor="end" fill="#7a7a7a" font-family="Liberation Sans, sans-serif">2.607A</text>
<text transform="translate(689.6,734.9) rotate(-90) scale(1.31,1)" font-size="8.4" text-anchor="end" fill="#7a7a7a" font-family="Liberation Sans, sans-serif">2.65</text>
<text transform="translate(703.18,734.9) rotate(-90) scale(1.31,1)" font-size="8.4" text-anchor="end" fill="#7a7a7a" font-family="Liberation Sans, sans-serif">2.657A</text>
<text transform="translate(716.76,734.9) rotate(-90) scale(1.31,1)" font-size="8.4" text-anchor="end" fill="#7a7a7a" font-family="Liberation Sans, sans-serif">2.7</text>
<text transform="translate(730.34,734.9) rotate(-90) scale(1.31,1)" font-size="8.4" text-anchor="end" fill="#7a7a7a" font-family="Liberation Sans, sans-serif">2.706A</text>
<text transform="translate(743.92,734.9) rotate(-90) scale(1.31,1)" font-size="8.4" text-anchor="end" fill="#7a7a7a" font-family="Liberation Sans, sans-serif">2.75</text>
<text transform="translate(757.5,734.9) rotate(-90) scale(1.31,1)" font-size="8.4" text-anchor="end" fill="#7a7a7a" font-family="Liberation Sans, sans-serif">2.755A</text>
<text transform="translate(771.08,734.9) rotate(-90) scale(1.31,1)" font-size="8.4" text-anchor="end" fill="#7a7a7a" font-family="Liberation Sans, sans-serif">2.8</text>
<text transform="translate(784.66,734.9) rotate(-90) scale(1.31,1)" font-size="8.4" text-anchor="end" fill="#7a7a7a" font-family="Liberation Sans, sans-serif">2.804A</text>
<text transform="translate(798.24,734.9) rotate(-90) scale(1.31,1)" font-size="8.4" text-anchor="end" fill="#7a7a7a" font-family="Liberation Sans, sans-serif">2.85</text>
<text transform="translate(811.82,734.9) rotate(-90) scale(1.31,1)" font-size="8.4" text-anchor="end" fill="#7a7a7a" font-family="Liberation Sans, sans-serif">2.853A</text>
<text transform="translate(825.4,734.9) rotate(-90) scale(1.31,1)" font-size="8.4" text-anchor="end" fill="#7a7a7a" font-family="Liberation Sans, sans-serif">2.9</text>
<text transform="translate(838.98,734.9) rotate(-90) scale(1.31,1)" font-size="8.4" text-anchor="end" fill="#7a7a7a" font-family="Liberation Sans, sans-serif">2.903A</text>
<text transform="translate(852.56,734.9) rotate(-90) scale(1.31,1)" font-size="8.4" text-anchor="end" fill="#7a7a7a" font-family="Liberation Sans, sans-serif">2.95</text>
<text transform="translate(866.14,734.9) rotate(-90) scale(1.31,1)" font-size="8.4" text-anchor="end" fill="#7a7a7a" font-family="Liberation Sans, sans-serif">2.952A</text>
<text transform="translate(879.72,734.9) rotate(-90) scale(1.31,1)" font-size="8.4" text-anchor="end" fill="#7a7a7a" font-family="Liberation Sans, sans-serif">3</text>
<text transform="translate(893.3,734.9) rotate(-90) scale(1.31,1)" font-size="8.4" text-anchor="end" fill="#7a7a7a" font-family="Liberation Sans, sans-serif">3.05A</text>
<text transform="translate(906.88,734.9) rotate(-90) scale(1.31,1)" font-size="8.4" text-anchor="end" fill="#7a7a7a" font-family="Liberation Sans, sans-serif">3.1</text>
<text transform="translate(920.46,734.9) rotate(-90) scale(1.31,1)" font-size="8.4" text-anchor="end" fill="#7a7a7a" font-family="Liberation Sans, sans-serif">3.149A</text>
<text transform="translate(934.04,734.9) rotate(-90) scale(1.31,1)" font-size="8.4" text-anchor="end" fill="#7a7a7a" font-family="Liberation Sans, sans-serif">3.2</text>
<text transform="translate(947.62,734.9) rotate(-90) scale(1.31,1)" font-size="8.4" text-anchor="end" fill="#7a7a7a" font-family="Liberation Sans, sans-serif">3.247A</text>
<text transform="translate(961.2,734.9) rotate(-90) scale(1.31,1)" font-size="8.4" text-anchor="end" fill="#7a7a7a" font-family="Liberation Sans, sans-serif">3.3</text>
<text transform="translate(974.78,734.9) rotate(-90) scale(1.31,1)" font-size="8.4" text-anchor="end" fill="#7a7a7a" font-family="Liberation Sans, sans-serif">3.345A</text>
<text transform="translate(988.36,734.9) rotate(-90) scale(1.31,1)" font-size="8.4" text-anchor="end" fill="#7a7a7a" font-family="Liberation Sans, sans-serif">3.4</text>
<text transform="translate(1001.94,734.9) rotate(-90) scale(1.31,1)" font-size="8.4" text-anchor="end" fill="#7a7a7a" font-family="Liberation Sans, sans-serif">3.444A</text>
<text transform="translate(1015.52,734.9) rotate(-90) scale(1.31,1)" font-size="8.4" text-anchor="end" fill="#7a7a7a" font-family="Liberation Sans, sans-serif">3.5</text>
<g transform="scale(0.6757,1)"><path d="M915.08 655.2L935.18 633.4L955.28 627.4L975.38 623.7L995.48 620.7L1015.58 616.7L1035.67 619.7L1055.77 606.2L1075.87 615.9L1095.97 617.7L1116.07 617.8L1136.17 617.8L1156.26 617.8L1176.36 616.2L1196.46 619.2L1216.56 618.2L1236.66 619.2L1256.76 619.2L1276.86 619.2L1296.95 616.2L1317.05 615.2L1337.15 611.7L1357.25 608.1L1377.35 599.6L1397.45 597.6L1417.54 591L1437.64 583.3L1457.74 572.8L1477.84 568.8L1497.94 562.4" fill="none" stroke="#5B9BD5" stroke-width="3" stroke-linejoin="round" stroke-linecap="round"/><g fill="#5B9BD5"><circle cx="915.08" cy="655.2" r="3.7"/><circle cx="935.18" cy="633.4" r="3.7"/><circle cx="955.28" cy="627.4" r="3.7"/><circle cx="975.38" cy="623.7" r="3.7"/><circle cx="995.48" cy="620.7" r="3.7"/><circle cx="1015.58" cy="616.7" r="3.7"/><circle cx="1035.67" cy="619.7" r="3.7"/><circle cx="1055.77" cy="606.2" r="3.7"/><circle cx="1075.87" cy="615.9" r="3.7"/><circle cx="1095.97" cy="617.7" r="3.7"/><circle cx="1116.07" cy="617.8" r="3.7"/><circle cx="1136.17" cy="617.8" r="3.7"/><circle cx="1156.26" cy="617.8" r="3.7"/><circle cx="1176.36" cy="616.2" r="3.7"/><circle cx="1196.46" cy="619.2" r="3.7"/><circle cx="1216.56" cy="618.2" r="3.7"/><circle cx="1236.66" cy="619.2" r="3.7"/><circle cx="1256.76" cy="619.2" r="3.7"/><circle cx="1276.86" cy="619.2" r="3.7"/><circle cx="1296.95" cy="616.2" r="3.7"/><circle cx="1317.05" cy="615.2" r="3.7"/><circle cx="1337.15" cy="611.7" r="3.7"/><circle cx="1357.25" cy="608.1" r="3.7"/><circle cx="1377.35" cy="599.6" r="3.7"/><circle cx="1397.45" cy="597.6" r="3.7"/><circle cx="1417.54" cy="591" r="3.7"/><circle cx="1437.64" cy="583.3" r="3.7"/><circle cx="1457.74" cy="572.8" r="3.7"/><circle cx="1477.84" cy="568.8" r="3.7"/><circle cx="1497.94" cy="562.4" r="3.7"/></g></g>
<g transform="scale(0.6757,1)"><path d="M915.08 582.5L935.18 590L955.28 588.6L975.38 594L995.48 593L1015.58 599L1035.67 598.4L1055.77 600.5L1075.87 602.1L1095.97 603.1L1116.07 604.1L1136.17 605.5L1156.26 605.5L1176.36 605.5L1196.46 606.5L1216.56 604.5L1236.66 605.5L1256.76 604.5L1276.86 603.7L1296.95 603.1L1317.05 597L1337.15 593L1357.25 586L1377.35 578.9L1397.45 545.6L1417.54 526.1L1437.64 557.7L1457.74 529.9L1477.84 512L1497.94 526.1" fill="none" stroke="#ED7D31" stroke-width="3" stroke-linejoin="round" stroke-linecap="round"/><g fill="#ED7D31"><circle cx="915.08" cy="582.5" r="3.7"/><circle cx="935.18" cy="590" r="3.7"/><circle cx="955.28" cy="588.6" r="3.7"/><circle cx="975.38" cy="594" r="3.7"/><circle cx="995.48" cy="593" r="3.7"/><circle cx="1015.58" cy="599" r="3.7"/><circle cx="1035.67" cy="598.4" r="3.7"/><circle cx="1055.77" cy="600.5" r="3.7"/><circle cx="1075.87" cy="602.1" r="3.7"/><circle cx="1095.97" cy="603.1" r="3.7"/><circle cx="1116.07" cy="604.1" r="3.7"/><circle cx="1136.17" cy="605.5" r="3.7"/><circle cx="1156.26" cy="605.5" r="3.7"/><circle cx="1176.36" cy="605.5" r="3.7"/><circle cx="1196.46" cy="606.5" r="3.7"/><circle cx="1216.56" cy="604.5" r="3.7"/><circle cx="1236.66" cy="605.5" r="3.7"/><circle cx="1256.76" cy="604.5" r="3.7"/><circle cx="1276.86" cy="603.7" r="3.7"/><circle cx="1296.95" cy="603.1" r="3.7"/><circle cx="1317.05" cy="597" r="3.7"/><circle cx="1337.15" cy="593" r="3.7"/><circle cx="1357.25" cy="586" r="3.7"/><circle cx="1377.35" cy="578.9" r="3.7"/><circle cx="1397.45" cy="545.6" r="3.7"/><circle cx="1417.54" cy="526.1" r="3.7"/><circle cx="1437.64" cy="557.7" r="3.7"/><circle cx="1457.74" cy="529.9" r="3.7"/><circle cx="1477.84" cy="512" r="3.7"/><circle cx="1497.94" cy="526.1" r="3.7"/></g></g>
<g transform="scale(0.6757,1)"><path d="M955.28 646.5L975.38 664.6L995.48 648.1L1015.58 629.8L1035.67 632.4L1055.77 635.4L1075.87 627.8L1095.97 627.8L1116.07 627.8L1136.17 629L1156.26 628L1176.36 626.3L1196.46 627.4L1216.56 626.9L1236.66 626.2L1256.76 625.6L1276.86 625.6L1296.95 621.8L1317.05 617.8L1337.15 615.2L1357.25 610.1L1377.35 603.1L1397.45 599L1417.54 589L1437.64 586.6L1457.74 576.3L1477.84 571.8L1497.94 562.4" fill="none" stroke="#A5A5A5" stroke-width="3" stroke-linejoin="round" stroke-linecap="round"/><g fill="#A5A5A5"><circle cx="955.28" cy="646.5" r="3.7"/><circle cx="975.38" cy="664.6" r="3.7"/><circle cx="995.48" cy="648.1" r="3.7"/><circle cx="1015.58" cy="629.8" r="3.7"/><circle cx="1035.67" cy="632.4" r="3.7"/><circle cx="1055.77" cy="635.4" r="3.7"/><circle cx="1075.87" cy="627.8" r="3.7"/><circle cx="1095.97" cy="627.8" r="3.7"/><circle cx="1116.07" cy="627.8" r="3.7"/><circle cx="1136.17" cy="629" r="3.7"/><circle cx="1156.26" cy="628" r="3.7"/><circle cx="1176.36" cy="626.3" r="3.7"/><circle cx="1196.46" cy="627.4" r="3.7"/><circle cx="1216.56" cy="626.9" r="3.7"/><circle cx="1236.66" cy="626.2" r="3.7"/><circle cx="1256.76" cy="625.6" r="3.7"/><circle cx="1276.86" cy="625.6" r="3.7"/><circle cx="1296.95" cy="621.8" r="3.7"/><circle cx="1317.05" cy="617.8" r="3.7"/><circle cx="1337.15" cy="615.2" r="3.7"/><circle cx="1357.25" cy="610.1" r="3.7"/><circle cx="1377.35" cy="603.1" r="3.7"/><circle cx="1397.45" cy="599" r="3.7"/><circle cx="1417.54" cy="589" r="3.7"/><circle cx="1437.64" cy="586.6" r="3.7"/><circle cx="1457.74" cy="576.3" r="3.7"/><circle cx="1477.84" cy="571.8" r="3.7"/><circle cx="1497.94" cy="562.4" r="3.7"/></g></g>
<g transform="scale(0.6757,1)"><path d="M915.08 589L935.18 596L955.28 597L975.38 601.1L995.48 602.1L1015.58 606.1L1035.67 606.1L1055.77 610.1L1075.87 610.1L1095.97 612.5L1116.07 614.8L1136.17 612.5L1156.26 613.8L1176.36 614.8L1196.46 614.2L1216.56 612.1L1236.66 614.2L1256.76 611.1L1276.86 614.2L1296.95 609.1L1317.05 597L1337.15 596L1357.25 592L1377.35 583.3L1397.45 554.3L1417.54 577.3L1437.64 539.6L1457.74 509.8L1477.84 587.6L1497.94 514" fill="none" stroke="#FFC000" stroke-width="3" stroke-linejoin="round" stroke-linecap="round"/><g fill="#FFC000"><circle cx="915.08" cy="589" r="3.7"/><circle cx="935.18" cy="596" r="3.7"/><circle cx="955.28" cy="597" r="3.7"/><circle cx="975.38" cy="601.1" r="3.7"/><circle cx="995.48" cy="602.1" r="3.7"/><circle cx="1015.58" cy="606.1" r="3.7"/><circle cx="1035.67" cy="606.1" r="3.7"/><circle cx="1055.77" cy="610.1" r="3.7"/><circle cx="1075.87" cy="610.1" r="3.7"/><circle cx="1095.97" cy="612.5" r="3.7"/><circle cx="1116.07" cy="614.8" r="3.7"/><circle cx="1136.17" cy="612.5" r="3.7"/><circle cx="1156.26" cy="613.8" r="3.7"/><circle cx="1176.36" cy="614.8" r="3.7"/><circle cx="1196.46" cy="614.2" r="3.7"/><circle cx="1216.56" cy="612.1" r="3.7"/><circle cx="1236.66" cy="614.2" r="3.7"/><circle cx="1256.76" cy="611.1" r="3.7"/><circle cx="1276.86" cy="614.2" r="3.7"/><circle cx="1296.95" cy="609.1" r="3.7"/><circle cx="1317.05" cy="597" r="3.7"/><circle cx="1337.15" cy="596" r="3.7"/><circle cx="1357.25" cy="592" r="3.7"/><circle cx="1377.35" cy="583.3" r="3.7"/><circle cx="1397.45" cy="554.3" r="3.7"/><circle cx="1417.54" cy="577.3" r="3.7"/><circle cx="1437.64" cy="539.6" r="3.7"/><circle cx="1457.74" cy="509.8" r="3.7"/><circle cx="1477.84" cy="587.6" r="3.7"/><circle cx="1497.94" cy="514" r="3.7"/></g></g>
<line x1="670.6" y1="791" x2="687" y2="791" stroke="#5B9BD5" stroke-width="3" stroke-linecap="round"/>
<ellipse cx="679" cy="791" rx="2.55" ry="3.8" fill="#5B9BD5"/>
<text transform="translate(690.4,795.7) scale(0.636,1)" font-size="13" fill="#686868" font-family="Liberation Sans, Noto Sans CJK SC, sans-serif">认购</text>
<line x1="719.6" y1="791" x2="735.7" y2="791" stroke="#ED7D31" stroke-width="3" stroke-linecap="round"/>
<ellipse cx="727.7" cy="791" rx="2.55" ry="3.8" fill="#ED7D31"/>
<text transform="translate(739.3,795.7) scale(0.636,1)" font-size="13" fill="#686868" font-family="Liberation Sans, Noto Sans CJK SC, sans-serif">认沽</text>
<line x1="769" y1="791" x2="784.7" y2="791" stroke="#A5A5A5" stroke-width="3" stroke-linecap="round"/>
<ellipse cx="776.9" cy="791" rx="2.55" ry="3.8" fill="#A5A5A5"/>
<text transform="translate(788.3,795.7) scale(0.636,1)" font-size="13" fill="#686868" font-family="Liberation Sans, Noto Sans CJK SC, sans-serif">认购_前一交易日</text>
<line x1="863.6" y1="791" x2="879.7" y2="791" stroke="#FFC000" stroke-width="3" stroke-linecap="round"/>
<ellipse cx="871.8" cy="791" rx="2.55" ry="3.8" fill="#FFC000"/>
<text transform="translate(883.7,795.7) scale(0.636,1)" font-size="13" fill="#686868" font-family="Liberation Sans, Noto Sans CJK SC, sans-serif">认沽_前一交易日</text>
</svg>
</body>
</html>
